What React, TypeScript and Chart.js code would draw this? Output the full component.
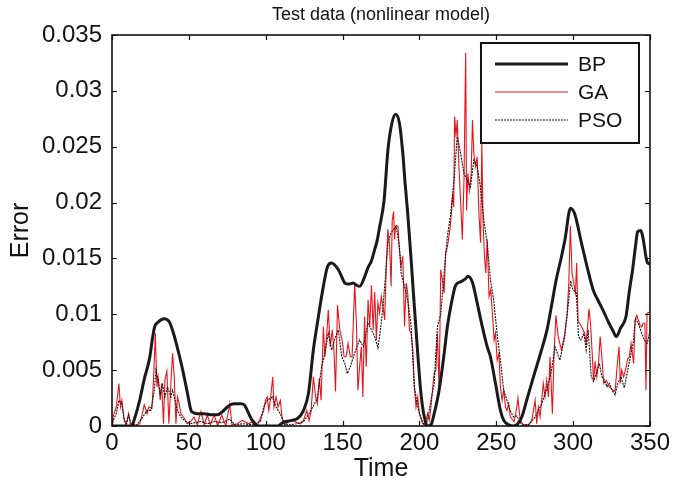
import React, { useEffect, useRef } from "react";
import { Chart, registerables } from "chart.js";
Chart.register(...registerables);

const chartTitle = "Test data (nonlinear model)";
const xLabel = "Time";
const yLabel = "Error";
const seriesNames = ["BP", "GA", "PSO"];
const xTicks = [0, 50, 100, 150, 200, 250, 300, 350];
const yTicks = [0, 0.005, 0.01, 0.015, 0.02, 0.025, 0.03, 0.035];

const bpTime = [0, 12.7, 15, 18, 21, 24.5, 26.5, 27.8, 30, 34, 36, 37.4, 40, 41.8, 44, 46, 49, 51.4, 53, 55.5, 60, 65, 68.5, 72, 75, 77, 80, 84, 86, 88, 90, 93.4, 96, 108, 110, 113, 117, 121, 124.6, 127.8, 131, 134.3, 137.5, 140.3, 142.9, 147.2, 149, 151.5, 154, 156.9, 159, 161.2, 164.5, 166.6, 168.8, 170.9, 172.5, 174.1, 177, 179.5, 182.1, 184.5, 187, 189.2, 190.7, 192.4, 194.6, 196.7, 198.9, 201, 203.2, 205.3, 207.5, 209.6, 212.8, 216.1, 218.2, 220.4, 223.6, 226.8, 230.1, 231.5, 234.4, 237.6, 240.9, 244.1, 246.2, 249.5, 252.7, 254.9, 258.1, 261.3, 264, 266.6, 270, 274.2, 279, 283, 286, 289, 292, 294.6, 298.3, 301, 305.4, 309, 313, 316, 319.3, 323, 326, 328, 331, 334.4, 336.5, 338.7, 340.5, 342, 344, 345.2, 348.4, 350];
const bpError = [0, 0, 0.0008, 0.0023, 0.0042, 0.0061, 0.008, 0.0089, 0.0093, 0.0096, 0.0095, 0.0093, 0.0083, 0.0074, 0.0062, 0.005, 0.003, 0.0014, 0.0012, 0.0011, 0.0011, 0.001, 0.001, 0.0013, 0.0017, 0.0019, 0.002, 0.002, 0.0019, 0.0014, 0.0008, 0.0001, 0, 0, 0.0002, 0.0004, 0.0005, 0.0007, 0.0014, 0.0029, 0.0068, 0.0098, 0.0125, 0.0143, 0.0146, 0.014, 0.0135, 0.0128, 0.0127, 0.0128, 0.0126, 0.0125, 0.0134, 0.0142, 0.0148, 0.0158, 0.0166, 0.0178, 0.0202, 0.0247, 0.0271, 0.0279, 0.0271, 0.0244, 0.0217, 0.019, 0.0149, 0.0107, 0.0065, 0.0029, 0.0008, 0, 0.0001, 0.0011, 0.0032, 0.0065, 0.0089, 0.0107, 0.0126, 0.0129, 0.0132, 0.0134, 0.0129, 0.011, 0.0089, 0.0071, 0.0062, 0.0038, 0.0014, 0.0005, 0.0001, 0, 0.0002, 0.0008, 0.0024, 0.0044, 0.0066, 0.0086, 0.0108, 0.0131, 0.0149, 0.0166, 0.0195, 0.019, 0.0164, 0.0143, 0.0122, 0.0113, 0.0104, 0.0093, 0.0085, 0.008, 0.0088, 0.0098, 0.012, 0.014, 0.016, 0.0174, 0.0175, 0.017, 0.0146, 0.0145];

const gaTime = [0, 0.6, 2.8, 4.5, 5.5, 6.4, 7.7, 9.2, 10.8, 12.2, 13.7, 15.7, 18, 19, 21, 22.8, 24, 26, 27, 28.2, 29.2, 30, 31.4, 32.3, 33.5, 34.4, 35.7, 37, 38.3, 39.4, 40.5, 41.6, 42.6, 43.7, 44.8, 47, 49, 51, 53.4, 55.5, 57.9, 60, 62, 64, 66.5, 68.7, 71.4, 74, 76.6, 78, 81.5, 84.8, 89, 92.3, 94.5, 96.6, 98.7, 99.8, 101, 102, 103, 104.6, 105.4, 106.7, 108, 109.5, 110.6, 112.3, 114.9, 118, 120.3, 122.5, 124.6, 126.7, 128.2, 129.5, 131, 132.5, 133.6, 134.9, 136, 137.5, 138.5, 139.6, 140.7, 142, 143.3, 144.5, 145.4, 146.7, 148.2, 149.7, 151, 152.3, 153.6, 155, 156.2, 157.9, 159, 160, 161.1, 162.2, 163.2, 164.3, 165.4, 166.6, 167.7, 168.8, 169.9, 170.9, 172, 173, 174.1, 175.2, 176.3, 177.4, 178.5, 179.5, 180.6, 181.6, 182.3, 183.2, 183.8, 184.5, 186, 187, 188.1, 189.2, 190.3, 191.4, 192.4, 193.5, 194.6, 195.7, 196.7, 197.8, 198.9, 200, 201, 202.1, 203.2, 204.3, 205.3, 206.4, 207.5, 208.5, 209.6, 210.7, 211.7, 212.8, 213.9, 215, 216.1, 217, 217.8, 218.6, 220, 220.8, 221.6, 222.3, 222.9, 223.8, 224.6, 225.7, 226.8, 227.9, 229, 230.1, 230.7, 231.5, 232.6, 233.7, 234.5, 235.4, 236.5, 237.6, 238.7, 239.8, 240.6, 241.4, 242.3, 243.2, 244.1, 245.3, 246.4, 247.5, 248.6, 249.5, 250.6, 251.7, 252.7, 253.8, 254.9, 256, 257, 258.1, 259.2, 261.6, 263.4, 264.1, 265.6, 267.7, 271, 273.1, 275.3, 276.3, 277.4, 278.5, 280.6, 281.7, 282.8, 283.9, 285, 286.5, 287.7, 288.8, 290.3, 292.4, 294.6, 296.1, 297.2, 298.2, 299.3, 300.4, 301.5, 302.3, 303.2, 304.2, 305.8, 307.5, 308.5, 310.3, 311.3, 312.4, 313.3, 314.3, 315.4, 316.5, 317.6, 318.7, 319.9, 321.5, 323.6, 325.8, 327.3, 328.6, 329.9, 330.7, 331.6, 332.9, 334.5, 335.5, 336.6, 337.7, 339.4, 340.3, 341.4, 342.4, 343.5, 344.6, 345.6, 346.7, 347.4, 348.1, 350];
const gaError = [0.0003, 0.0008, 0.0017, 0.0038, 0.0017, 0.0023, 0.0007, 0.0001, 0.0011, 0, 0.0002, 0, 0.0002, 0.0007, 0.0019, 0.0011, 0.0017, 0.0016, 0.0041, 0.0083, 0.0035, 0.0044, 0.0023, 0.0038, 0.0002, 0.0041, 0.0049, 0.0002, 0.0038, 0.0065, 0.0044, 0.0002, 0.0026, 0.002, 0.0011, 0.0007, 0.0002, 0.0004, 0.0008, 0.0001, 0.0013, 0.0001, 0.001, 0.0001, 0.001, 0, 0.001, 0, 0.002, 0.0001, 0.0002, 0.0005, 0.0002, 0.0005, 0.0001, 0.0007, 0.0014, 0.0023, 0.0026, 0.0014, 0.0023, 0.0044, 0.0017, 0.0026, 0.0017, 0.0023, 0.0008, 0.0001, 0.0004, 0.0005, 0.0003, 0.0002, 0.0005, 0.0014, 0.0005, 0.0013, 0.0044, 0.0026, 0.002, 0.0043, 0.0023, 0.0089, 0.0062, 0.008, 0.0104, 0.0071, 0.0086, 0.0065, 0.0031, 0.0108, 0.0086, 0.0077, 0.0062, 0.0062, 0.0074, 0.0062, 0.0062, 0.0128, 0.0092, 0.0032, 0.0053, 0.0071, 0.0026, 0.0098, 0.0053, 0.0113, 0.0089, 0.0126, 0.0086, 0.012, 0.0077, 0.011, 0.0101, 0.0116, 0.0107, 0.0095, 0.0146, 0.0176, 0.0161, 0.0125, 0.0184, 0.0192, 0.0167, 0.0179, 0.0179, 0.0158, 0.0143, 0.0152, 0.0089, 0.0128, 0.0119, 0.0086, 0.0083, 0.0068, 0.0035, 0.0017, 0.0026, 0.0011, 0.0007, 0.0002, 0.0001, 0.0005, 0.0011, 0.0005, 0.0017, 0.0032, 0.0047, 0.005, 0.0083, 0.0032, 0.014, 0.013, 0.0119, 0.0155, 0.0158, 0.0164, 0.0178, 0.019, 0.0208, 0.0196, 0.0277, 0.0259, 0.0274, 0.0232, 0.0202, 0.0167, 0.022, 0.0334, 0.0193, 0.0226, 0.0211, 0.0226, 0.0274, 0.0244, 0.0232, 0.0241, 0.019, 0.0164, 0.0253, 0.0184, 0.0152, 0.0137, 0.0167, 0.0116, 0.0122, 0.0101, 0.0077, 0.0083, 0.0059, 0.0065, 0.0035, 0.0023, 0.0032, 0.0017, 0.0014, 0.002, 0.0008, 0.0004, 0.0017, 0.0025, 0.0005, 0.0001, 0.0001, 0.0005, 0.0023, 0.0002, 0.0017, 0.0008, 0.0038, 0.0026, 0.0041, 0.0026, 0.0062, 0.0011, 0.0068, 0.0099, 0.008, 0.0068, 0.0083, 0.0101, 0.0128, 0.0179, 0.0137, 0.0128, 0.0119, 0.0146, 0.0094, 0.0092, 0.0088, 0.0083, 0.0074, 0.0105, 0.0092, 0.0065, 0.004, 0.0058, 0.0044, 0.0056, 0.008, 0.0062, 0.0038, 0.0041, 0.0035, 0.0032, 0.0031, 0.0053, 0.0071, 0.0038, 0.005, 0.0044, 0.0053, 0.006, 0.0062, 0.0074, 0.0056, 0.0095, 0.0099, 0.0095, 0.009, 0.0089, 0.0092, 0.0092, 0.0032, 0.0101, 0.0102];

const psoTime = [0, 2.8, 4.5, 6.4, 8, 9.5, 10.8, 12.5, 16, 20, 22.8, 25.4, 27.5, 28.6, 30, 31.4, 32.9, 34.4, 36.1, 38.3, 39.4, 40.5, 42.6, 44.8, 47.8, 51, 54, 58, 62, 66.5, 71.4, 76.6, 80, 85, 92, 96.6, 98.7, 101, 104.4, 106.7, 109.5, 112, 116, 120, 124.6, 127.8, 131, 133.6, 136.4, 138.5, 140.7, 142.9, 145, 147.2, 149.5, 151.5, 153, 155, 157.8, 161, 163.5, 166.5, 168.8, 170.9, 173, 174.6, 176.3, 178, 179.5, 181.6, 184.9, 187, 188.1, 190.3, 192.4, 194.6, 196.7, 198.9, 201, 203.2, 205.3, 207.5, 209.6, 211.7, 213.9, 216.1, 218.2, 220.4, 222.5, 224.6, 226.8, 229, 231.1, 233.2, 235.4, 237.6, 239.7, 241.9, 244.1, 246.2, 248.3, 250.5, 252.7, 254.8, 257, 259, 261.2, 263.4, 266.6, 271, 275.3, 279.6, 283.9, 286, 288.2, 291.4, 294.6, 296.7, 298.4, 299.9, 302.1, 303.5, 305, 307, 308.5, 309.8, 311.8, 313.3, 315, 317.1, 318.7, 320.4, 322, 323.6, 325.8, 327.3, 329, 331.1, 333.3, 335.5, 337.7, 339, 340.6, 342.4, 344.6, 346.3, 348.2, 350];
const psoError = [0.0003, 0.0011, 0.0023, 0.002, 0.0005, 0.0002, 0.001, 0.0002, 0.0001, 0.0008, 0.0014, 0.0014, 0.0032, 0.005, 0.0041, 0.0029, 0.0037, 0.0026, 0.0035, 0.0026, 0.0032, 0.0026, 0.0014, 0.0008, 0.0004, 0.0002, 0.0003, 0.0004, 0.0002, 0.0004, 0.0003, 0.0006, 0.0001, 0.0002, 0.0001, 0.0004, 0.0017, 0.0023, 0.0026, 0.0017, 0.0011, 0.0002, 0.0001, 0.0002, 0.0004, 0.001, 0.0018, 0.0025, 0.0053, 0.0065, 0.0083, 0.0068, 0.0078, 0.0086, 0.0062, 0.0056, 0.0047, 0.0053, 0.0065, 0.0077, 0.0071, 0.0092, 0.0086, 0.008, 0.007, 0.0085, 0.0107, 0.0135, 0.0164, 0.0173, 0.0179, 0.016, 0.0137, 0.0125, 0.0113, 0.0089, 0.0035, 0.0017, 0.0007, 0.0001, 0.0005, 0.0023, 0.0038, 0.0089, 0.01, 0.0137, 0.017, 0.019, 0.022, 0.0259, 0.0244, 0.0226, 0.022, 0.0214, 0.0238, 0.0232, 0.0214, 0.0184, 0.0164, 0.0131, 0.0113, 0.0083, 0.0059, 0.0032, 0.0023, 0.0014, 0.0008, 0.0009, 0.0001, 0.0001, 0.0008, 0.002, 0.0038, 0.005, 0.0071, 0.0059, 0.008, 0.0107, 0.013, 0.0122, 0.0119, 0.008, 0.0077, 0.0083, 0.0068, 0.0086, 0.0044, 0.004, 0.0047, 0.0056, 0.0044, 0.0041, 0.0035, 0.0038, 0.0031, 0.0028, 0.0038, 0.0044, 0.0034, 0.005, 0.0065, 0.0074, 0.0096, 0.0092, 0.0083, 0.0077, 0.0074, 0.0085];

const FONT = '"Liberation Sans", Arial, Helvetica, sans-serif';
const BP_COLOR = "#1a1a1a";
const GA_COLOR = "#e8141c";
const PSO_COLOR = "#111";

const framePlugin = {
  id: "framePlugin",
  afterDraw(chart: any) {
    const { ctx, chartArea } = chart;
    const { left, right, top, bottom } = chartArea;
    const xs = chart.scales.x;
    const ys = chart.scales.y;
    ctx.save();
    ctx.strokeStyle = "#111";
    ctx.lineWidth = 1.6;
    ctx.strokeRect(left, top, right - left, bottom - top);
    ctx.lineWidth = 1.2;
    ctx.beginPath();
    xTicks.forEach((v) => {
      const px = Math.round(xs.getPixelForValue(v)) + 0.5;
      ctx.moveTo(px, bottom);
      ctx.lineTo(px, bottom - 5);
      ctx.moveTo(px, top);
      ctx.lineTo(px, top + 5);
    });
    yTicks.forEach((v) => {
      const py = Math.round(ys.getPixelForValue(v)) + 0.5;
      ctx.moveTo(left, py);
      ctx.lineTo(left + 5, py);
      ctx.moveTo(right, py);
      ctx.lineTo(right - 5, py);
    });
    ctx.stroke();

    // title
    ctx.fillStyle = "#111";
    ctx.font = `18px ${FONT}`;
    ctx.textAlign = "center";
    ctx.textBaseline = "middle";
    ctx.fillText(chartTitle, (left + right) / 2, 15);

    // legend
    const bx = right - 169;
    const by = top + 8;
    const bw = 158;
    const bh = 100;
    ctx.fillStyle = "#fff";
    ctx.fillRect(bx, by, bw, bh);
    ctx.strokeStyle = "#111";
    ctx.lineWidth = 2;
    ctx.strokeRect(bx, by, bw, bh);
    const styles = [
      { color: BP_COLOR, width: 3, dash: [] as number[] },
      { color: GA_COLOR, width: 1.2, dash: [] as number[] },
      { color: PSO_COLOR, width: 1.1, dash: [2, 1] },
    ];
    seriesNames.forEach((name, i) => {
      const y = by + 21 + i * 28;
      const s = styles[i];
      ctx.beginPath();
      ctx.setLineDash(s.dash);
      ctx.strokeStyle = s.color;
      ctx.lineWidth = s.width;
      ctx.moveTo(bx + 14, y);
      ctx.lineTo(bx + 87, y);
      ctx.stroke();
      ctx.setLineDash([]);
      ctx.fillStyle = "#111";
      ctx.font = `21px ${FONT}`;
      ctx.textAlign = "left";
      ctx.textBaseline = "middle";
      ctx.fillText(name, bx + 97, y + 1);
    });
    ctx.restore();
  },
};

const toPoints = (t: number[], v: number[]) => t.map((x, i) => ({ x, y: v[i] }));

const fmtY = (v: number) => {
  const r = Number(v.toFixed(3));
  return r === 0 ? "0" : String(r);
};

export default function App() {
  const ref = useRef<HTMLCanvasElement | null>(null);
  useEffect(() => {
    if (!ref.current) return;
    const chart = new Chart(ref.current, {
      type: "line",
      data: {
        datasets: [
          {
            label: seriesNames[0],
            data: toPoints(bpTime, bpError),
            borderColor: BP_COLOR,
            borderWidth: 3,
            pointRadius: 0,
            cubicInterpolationMode: "monotone",
            order: 0,
          },
          {
            label: seriesNames[1],
            data: toPoints(gaTime, gaError),
            borderColor: GA_COLOR,
            borderWidth: 1.1,
            pointRadius: 0,
            tension: 0,
            order: 2,
          },
          {
            label: seriesNames[2],
            data: toPoints(psoTime, psoError),
            borderColor: PSO_COLOR,
            borderWidth: 1.1,
            borderDash: [2, 1],
            pointRadius: 0,
            tension: 0,
            order: 1,
          },
        ],
      },
      options: {
        animation: false,
        responsive: false,
        maintainAspectRatio: false,
        layout: { padding: { left: 0, right: 19, top: 35, bottom: 0 } },
        plugins: {
          legend: { display: false },
          title: { display: false },
          tooltip: { enabled: false },
        },
        scales: {
          x: {
            type: "linear",
            min: 0,
            max: 350,
            afterBuildTicks: (s: any) => {
              s.ticks = xTicks.map((v) => ({ value: v }));
            },
            afterFit: (s: any) => {
              s.height = 58;
            },
            grid: { display: false, drawTicks: false },
            border: { display: false },
            ticks: {
              color: "#111",
              font: { size: 24, family: FONT },
              padding: 3,
              maxRotation: 0,
              autoSkip: false,
            },
            title: {
              display: true,
              text: xLabel,
              color: "#111",
              font: { size: 25, family: FONT },
              padding: { top: 0, bottom: 0 },
            },
          },
          y: {
            type: "linear",
            min: 0,
            max: 0.035,
            afterBuildTicks: (s: any) => {
              s.ticks = yTicks.map((v) => ({ value: v }));
            },
            afterFit: (s: any) => {
              s.width = 112;
            },
            grid: { display: false, drawTicks: false },
            border: { display: false },
            ticks: {
              color: "#111",
              font: { size: 24, family: FONT },
              padding: 10,
              autoSkip: false,
              callback: (v: any) => fmtY(Number(v)),
            },
            title: {
              display: true,
              text: yLabel,
              color: "#111",
              font: { size: 25, family: FONT },
              padding: { top: 6, bottom: 0 },
            },
          },
        },
      },
      plugins: [framePlugin],
    });
    return () => chart.destroy();
  }, []);
  return (
    <div style={{ position: "fixed", left: 0, top: 0, width: 673, height: 484, background: "#fff" }}>
      <canvas ref={ref} width={673} height={484} style={{ display: "block" }} />
    </div>
  );
}
